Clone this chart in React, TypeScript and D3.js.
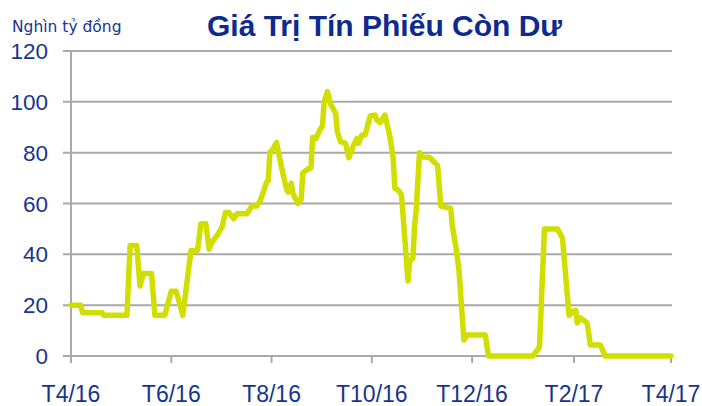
import React from "react";
import * as d3 from "d3";

const title = "Giá Trị Tín Phiếu Còn Dư";
const unitLabel = "Nghìn tỷ đồng";

const dates: string[] = [
  "2016-04-01", "2016-04-07", "2016-04-08", "2016-04-20", "2016-04-21", "2016-05-05",
  "2016-05-07", "2016-05-11", "2016-05-13", "2016-05-15", "2016-05-20", "2016-05-22",
  "2016-05-28", "2016-06-01", "2016-06-04", "2016-06-08", "2016-06-13", "2016-06-17",
  "2016-06-19", "2016-06-22", "2016-06-24", "2016-06-26", "2016-06-29", "2016-07-02",
  "2016-07-04", "2016-07-06", "2016-07-09", "2016-07-11", "2016-07-17", "2016-07-20",
  "2016-07-23", "2016-07-25", "2016-07-27", "2016-07-29", "2016-07-30", "2016-07-31",
  "2016-08-02", "2016-08-04", "2016-08-07", "2016-08-10", "2016-08-11", "2016-08-13",
  "2016-08-14", "2016-08-17", "2016-08-19", "2016-08-20", "2016-08-23", "2016-08-25",
  "2016-08-26", "2016-08-28", "2016-08-30", "2016-09-01", "2016-09-02", "2016-09-04",
  "2016-09-06", "2016-09-09", "2016-09-10", "2016-09-12", "2016-09-15", "2016-09-17",
  "2016-09-20", "2016-09-22", "2016-09-23", "2016-09-25", "2016-09-27", "2016-09-28",
  "2016-09-30", "2016-10-03", "2016-10-04", "2016-10-06", "2016-10-09", "2016-10-12",
  "2016-10-14", "2016-10-15", "2016-10-17", "2016-10-19", "2016-10-20", "2016-10-23",
  "2016-10-24", "2016-10-26", "2016-10-27", "2016-10-28", "2016-10-29", "2016-10-30",
  "2016-11-01", "2016-11-05", "2016-11-10", "2016-11-12", "2016-11-18", "2016-11-19",
  "2016-11-21", "2016-11-23", "2016-11-26", "2016-11-28", "2016-12-09", "2016-12-11",
  "2017-01-07", "2017-01-11", "2017-01-14", "2017-01-22", "2017-01-25", "2017-01-27",
  "2017-01-29", "2017-01-31", "2017-02-02", "2017-02-03", "2017-02-05", "2017-02-07",
  "2017-02-09", "2017-02-11", "2017-02-17", "2017-02-20", "2017-04-01",
];

const values: number[] = [
  20, 20, 17, 17, 16, 16,
  43.5, 43.5, 27.5, 32.5, 32.5, 16,
  16, 25.5, 25.5, 16, 41.5, 41.5,
  52, 52, 42, 45, 47.5, 51,
  56.5, 56.5, 54, 56, 56, 59,
  59, 61, 64.5, 68.5, 69, 80,
  81.5, 84, 74.5, 66, 64.5, 68,
  64, 60, 61.5, 72, 73.5, 74,
  86, 85.5, 88.5, 90.5, 100, 104,
  99, 95.5, 88.3, 84.3, 83.7, 78,
  83, 85.6, 83.7, 87, 87, 89.6,
  94.4, 94.8, 92.9, 91.8, 94.8, 86.3,
  77.8, 66, 65.3, 63.5, 55.5, 29.5,
  37.1, 38.5, 51, 57.5, 68.6, 80,
  78.3, 78.2, 75, 59, 58.1, 51,
  43.5, 34, 6.3, 8.3, 8.3, 0,
  0, 3.5, 50, 50, 46.3, 31,
  16, 17.5, 18, 13, 15, 14,
  12.9, 4.3, 4.3, 0, 0,
];

const yTicks: number[] = [0, 20, 40, 60, 80, 100, 120];
const xTickDates: string[] = [
  "2016-04-01", "2016-06-01", "2016-08-01", "2016-10-01", "2016-12-01", "2017-02-01", "2017-04-01",
];
const xTickLabels: string[] = ["T4/16", "T6/16", "T8/16", "T10/16", "T12/16", "T2/17", "T4/17"];

const W = 702;
const H = 406;
const M = { left: 71, right: 671, top: 51, bottom: 356 };

const textBlue = "#17358f";
const gridGray = "#a9a9a9";
const lineColor = "#d2de00";

export default function App() {
  const parse = d3.utcParse("%Y-%m-%d");
  const data = dates.map((d, i) => ({ date: parse(d) as Date, value: values[i] }));

  const x = d3
    .scaleUtc()
    .domain([parse(xTickDates[0]) as Date, parse(xTickDates[xTickDates.length - 1]) as Date])
    .range([M.left, M.right]);
  const y = d3.scaleLinear().domain([0, 120]).range([M.bottom, M.top]);

  const line = d3
    .line<{ date: Date; value: number }>()
    .x((d) => x(d.date))
    .y((d) => y(d.value));

  return (
    <svg
      width={W}
      height={H}
      style={{ position: "absolute", left: 0, top: 0, background: "#fff" }}
    >
      <text
        x={12}
        y={32}
        fontFamily="DejaVu Sans, sans-serif"
        fontSize={15.5}
        fill={textBlue}
      >
        {unitLabel}
      </text>
      <text
        x={207}
        y={36}
        fontFamily="Liberation Sans, Arial, sans-serif"
        fontWeight="bold"
        fontSize={30}
        fill="#0e2a8e"
      >
        {title}
      </text>

      {yTicks.map((t) => (
        <g key={"y" + t}>
          <line
            x1={M.left - 8}
            x2={M.right + 1}
            y1={y(t)}
            y2={y(t)}
            stroke={gridGray}
            strokeWidth={2}
          />
          <text
            x={48}
            y={y(t) + 8}
            textAnchor="end"
            fontFamily="Liberation Sans, Arial, sans-serif"
            fontSize={22.5}
            fill={textBlue}
          >
            {t}
          </text>
        </g>
      ))}

      <line
        x1={M.left}
        x2={M.left}
        y1={M.top - 1}
        y2={M.bottom + 7}
        stroke={gridGray}
        strokeWidth={2}
      />

      {xTickDates.map((d, i) => {
        const px = x(parse(d) as Date);
        return (
          <g key={"x" + d}>
            <line
              x1={px}
              x2={px}
              y1={M.bottom}
              y2={M.bottom + 7}
              stroke={gridGray}
              strokeWidth={2}
            />
            <text
              x={px}
              y={402}
              textAnchor="middle"
              fontFamily="Liberation Sans, Arial, sans-serif"
              fontSize={23}
              fill={textBlue}
            >
              {xTickLabels[i]}
            </text>
          </g>
        );
      })}

      <path
        d={line(data) || ""}
        fill="none"
        stroke={lineColor}
        strokeWidth={5.5}
        strokeLinejoin="round"
        strokeLinecap="round"
      />
    </svg>
  );
}
